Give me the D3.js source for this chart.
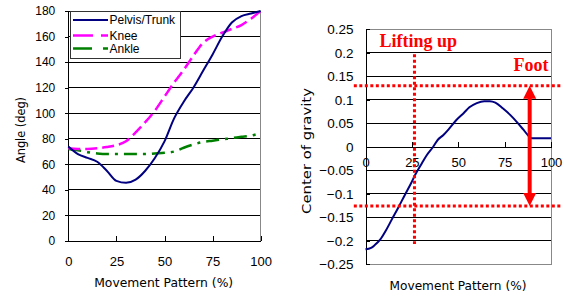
<!DOCTYPE html>
<html><head><meta charset="utf-8">
<script src="https://cdn.jsdelivr.net/npm/d3@7/dist/d3.min.js"></script>
<style>body{margin:0;background:#fff}svg{display:block}</style>
</head><body>
<script>
// ---- Left chart data ----
const pctX = [0,5,10,15,20,25,30,35,40,45,50,55,60,65,70,75,80,85,90,95,100];
const pelvis = [74,68,65,62,55,47,45.5,48,55,65,78,96,109,120,133,146,160,171,176,178,180];
const knee   = [72.5,72,72,72.5,73.5,75,78,85,93,102,113,124,134,145,155,160,163,166,169,174,180];
const ankle  = [72,71,69.5,68.5,68,68,68,68,68,68.5,69,70,73,75.5,77.5,78.5,79.5,80.5,81.5,82.5,84.5];
const seriesNames = ["Pelvis/Trunk","Knee","Ankle"];
const leftYTicks = [0,20,40,60,80,100,120,140,160,180];
const xTicks = [0,25,50,75,100];

// ---- Right chart data ----
const cogX = [0,3,5,8,11,14,18,21,24.5,27,30.4,33,36.5,39,42,45,49,53,56,60,64,67,70,74,78,82,85,87.5,89.5,92,96,100];
const cogY = [-0.218,-0.215,-0.209,-0.197,-0.178,-0.156,-0.127,-0.104,-0.078,-0.058,-0.035,-0.018,0,0.015,0.025,0.038,0.057,0.072,0.084,0.093,0.097,0.097,0.094,0.082,0.068,0.051,0.037,0.025,0.018,0.018,0.018,0.018];
const rightYTicks = [0.25,0.2,0.15,0.1,0.05,0,-0.05,-0.1,-0.15,-0.2,-0.25];
const liftX = 26.4, liftRange = [-0.207, 0.197];
const footUpper = 0.13, footLower = -0.126, footX = 88.5, footLineRange = [-6.3, 105.5];
const labels = {lift:"Lifting up", foot:"Foot", xTitle:"Movement Pattern (%)", yLeft:"Angle (deg)", yRight:"Center of gravity"};

const W=564,H=298;
const svg=d3.select("body").append("svg").attr("width",W).attr("height",H);
const tickFont="'Liberation Sans', Arial, sans-serif";
const titleFont="'DejaVu Sans', sans-serif";

// ================= LEFT =================
const xL=d3.scaleLinear().domain([0,100]).range([68.3,260.7]);
const yL=d3.scaleLinear().domain([0,180]).range([241,11]);
const gL=svg.append("g");
// grid
gL.selectAll("line.g").data(leftYTicks.filter(d=>d>0)).join("line")
  .attr("x1",xL(0)).attr("x2",xL(100)).attr("y1",d=>yL(d)).attr("y2",d=>yL(d))
  .attr("stroke","#000").attr("stroke-width",1).attr("shape-rendering","crispEdges");
// right border
gL.append("line").attr("x1",xL(100)).attr("x2",xL(100)).attr("y1",yL(180)).attr("y2",yL(0))
  .attr("stroke","#888").attr("shape-rendering","crispEdges");
// axes
const axL=d3.axisLeft(yL).tickValues(leftYTicks).tickSize(3).tickPadding(10);
gL.append("g").attr("transform",`translate(${xL(0)},0)`).call(axL)
  .call(g=>{g.select(".domain").attr("stroke","#000");g.selectAll("text").attr("font-family",tickFont).attr("font-size",12).attr("fill","#000");});
const axB=d3.axisBottom(xL).tickValues(xTicks).tickSize(-5).tickPadding(16).tickSizeOuter(0);
gL.append("g").attr("transform",`translate(0,${yL(0)})`).call(axB)
  .call(g=>{g.selectAll("text").attr("font-family",tickFont).attr("font-size",13).attr("fill","#000");});
gL.selectAll("path.domain,.tick line").attr("shape-rendering","crispEdges");

const lineL=(arr)=>d3.line().x((d,i)=>xL(pctX[i])).y(d=>yL(d)).curve(d3.curveMonotoneX)(arr);
const styles=[
  {c:"#000080",w:2,dash:null},
  {c:"#FF00FF",w:2.5,dash:"12,5"},
  {c:"#008000",w:2.5,dash:"13,6,3,6"}];
[ankle,knee,pelvis].forEach((arr,k)=>{
  const s=styles[2-k];
  gL.append("path").attr("d",lineL(arr)).attr("fill","none").attr("stroke",s.c)
    .attr("stroke-width",s.w).attr("stroke-dasharray",s.dash);
});
// legend
const lg=gL.append("g");
lg.append("rect").attr("x",70.5).attr("y",11.5).attr("width",110).attr("height",47)
  .attr("fill","#fff").attr("stroke","#333").attr("stroke-width",1);
const legY=[20,35.5,48.5];
seriesNames.forEach((n,i)=>{
  const s=styles[i];
  lg.append("line").attr("x1",73).attr("x2",108).attr("y1",legY[i]).attr("y2",legY[i])
    .attr("stroke",s.c).attr("stroke-width",s.w).attr("stroke-dasharray",i==0?null:(i==1?"20,8,7,0":"19,11,4,0"));
  lg.append("text").attr("x",109.5).attr("y",legY[i]+4.3).text(n)
    .attr("font-family",tickFont).attr("font-size",12).attr("fill","#000");
});
// titles
svg.append("text").attr("x",163.7).attr("y",287).attr("text-anchor","middle").text(labels.xTitle)
  .attr("font-family",titleFont).attr("font-size",12).attr("textLength",139).attr("lengthAdjust","spacingAndGlyphs");
svg.append("text").attr("transform","translate(25,130) rotate(-90)").attr("text-anchor","middle").text(labels.yLeft)
  .attr("font-family",titleFont).attr("font-size",12).attr("textLength",66).attr("lengthAdjust","spacingAndGlyphs");

// ================= RIGHT =================
const xR=d3.scaleLinear().domain([0,100]).range([365.5,551]);
const yR=d3.scaleLinear().domain([-0.25,0.25]).range([264.3,29.3]);
const gR=svg.append("g");
gR.selectAll("line.g").data(rightYTicks.filter(d=>Math.abs(d)<0.24 && d!==0)).join("line")
  .attr("x1",xR(0)).attr("x2",xR(100)).attr("y1",d=>yR(d)).attr("y2",d=>yR(d))
  .attr("stroke","#000").attr("shape-rendering","crispEdges");
// border (top, right, bottom)
gR.append("path").attr("d",`M${xR(0)},${yR(0.25)}H${xR(100)}V${yR(-0.25)}H${xR(0)}`)
  .attr("fill","none").attr("stroke","#888").attr("shape-rendering","crispEdges");
const fmt=d=>d===0?"0":d3.format("")(d).replace("-","\u2212").replace(/^(\u2212?)0?\./,"$10.");
const axR=d3.axisLeft(yR).tickValues(rightYTicks).tickSize(-4).tickPadding(12).tickFormat(fmt);
gR.append("g").attr("transform",`translate(${xR(0)},0)`).call(axR)
  .call(g=>{g.select(".domain").attr("stroke","#000");g.selectAll("text").attr("font-family",tickFont).attr("font-size",13.5).attr("fill","#000");});
const axR0=d3.axisBottom(xR).tickValues(xTicks).tickSize(-5).tickPadding(11).tickSizeOuter(0);
gR.append("g").attr("transform",`translate(0,${yR(0)})`).call(axR0)
  .call(g=>{g.selectAll("text").attr("font-family",tickFont).attr("font-size",13).attr("fill","#000");});
gR.selectAll("path.domain,.tick line").attr("shape-rendering","crispEdges");

gR.append("path").attr("d",d3.line().x((d,i)=>xR(cogX[i])).y(d=>yR(d)).curve(d3.curveMonotoneX)(cogY))
  .attr("fill","none").attr("stroke","#000080").attr("stroke-width",2);

// red markers
const red="#FF0000";
gR.append("line").attr("x1",xR(liftX)).attr("x2",xR(liftX)).attr("y1",yR(liftRange[1])).attr("y2",yR(liftRange[0]))
  .attr("stroke",red).attr("stroke-width",3).attr("stroke-dasharray","3,2.5");
[footUpper,footLower].forEach(v=>{
  gR.append("line").attr("x1",xR(footLineRange[0])).attr("x2",xR(footLineRange[1])).attr("y1",yR(v)).attr("y2",yR(v))
    .attr("stroke",red).attr("stroke-width",3).attr("stroke-dasharray","3,2.5");
});
const ax=xR(footX), yt=yR(footUpper), yb=yR(footLower);
gR.append("line").attr("x1",ax).attr("x2",ax).attr("y1",yt+10).attr("y2",yb-10).attr("stroke",red).attr("stroke-width",4);
gR.append("path").attr("d",`M${ax},${yt}L${ax-6.5},${yt+13}L${ax+6.5},${yt+13}Z`).attr("fill",red);
gR.append("path").attr("d",`M${ax},${yb}L${ax-6.5},${yb-13}L${ax+6.5},${yb-13}Z`).attr("fill",red);
gR.append("text").attr("x",379.5).attr("y",46.5).text(labels.lift)
  .attr("font-family","'Liberation Serif','Times New Roman',serif").attr("font-weight","bold").attr("font-size",18).attr("fill",red);
gR.append("text").attr("x",548.5).attr("y",71).attr("text-anchor","end").text(labels.foot)
  .attr("font-family","'Liberation Serif','Times New Roman',serif").attr("font-weight","bold").attr("font-size",18).attr("fill",red);
// titles
svg.append("text").attr("x",458).attr("y",290).attr("text-anchor","middle").text(labels.xTitle)
  .attr("font-family",titleFont).attr("font-size",12).attr("textLength",137).attr("lengthAdjust","spacingAndGlyphs");
svg.append("text").attr("transform","translate(311,151) rotate(-90)").attr("text-anchor","middle").text(labels.yRight)
  .attr("font-family",titleFont).attr("font-size",13).attr("textLength",126).attr("lengthAdjust","spacingAndGlyphs");
</script>
</body></html>
